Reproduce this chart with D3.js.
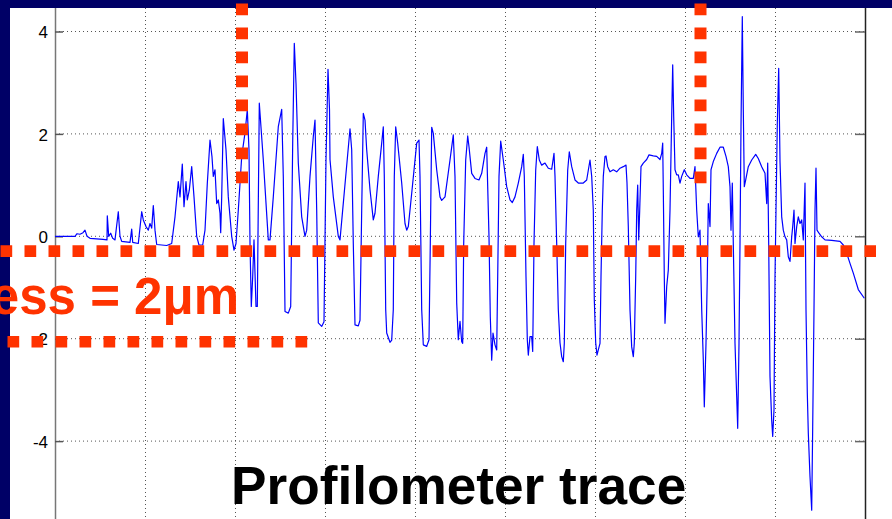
<!DOCTYPE html>
<html>
<head>
<meta charset="utf-8">
<script src="https://cdn.jsdelivr.net/npm/d3@7"></script>
<style>
  html, body { margin: 0; padding: 0; background: #ffffff; overflow: hidden; }
  svg { display: block; }
</style>
</head>
<body>
<svg id="chart" width="892" height="519"></svg>
<script>
// ---------- data ----------
const yTicks = [-4, -2, 0, 2, 4];
const yTickLabels = ["-4", "-2", "0", "2", "4"];
const xGrid = [90, 180, 270, 360, 450, 540, 630, 720];

// profilometer trace (x in scan units, y in µm)
const profileX = [
  0, 20, 22, 25, 28, 30, 32, 35, 48, 52, 52.3, 53.7, 55.7, 57.7, 60, 63.3, 65, 66.7, 75, 76.7,
  77.7, 83.3, 86.7, 88.3, 91, 93.3, 95, 96.7, 98.3, 100, 101.7, 111.7, 116.7, 120, 123.3, 125, 127.3, 129, 131, 132.3,
  134.3, 136.7, 139, 141.7, 144, 147.7, 150, 152.3, 155, 157, 158.3, 160, 161.7, 163.3, 165, 165.7, 166.7, 168.3, 171, 173.3,
  176.7, 179, 181, 183.3, 186.7, 190, 192.3, 194, 195, 196.3, 197.7, 199, 201, 202.3, 204.3, 208.3, 213.3, 215, 218.3, 223.3,
  226.7, 228.3, 230, 233.3, 235.7, 237.7, 239.3, 241, 243.3, 246.7, 250, 251.7, 255, 258.3, 260, 261.7, 263.3, 266.7, 269, 271,
  273, 274.5, 275, 278.3, 283.3, 285, 295, 296.7, 298.3, 300, 303.3, 305, 306.7, 308.3, 310, 311.7, 315, 318.3, 320, 323.3,
  326.7, 328.3, 329.3, 330.7, 331.7, 335, 336.7, 338.3, 339.3, 340.7, 342.7, 346.7, 350, 351.7, 353.3, 356.7, 361.7, 364, 365, 366.7,
  368.3, 371.7, 374, 375.3, 376.7, 378.3, 381.7, 385, 386.7, 390, 395, 398.3, 400, 401.7, 403.3, 405, 406.7, 407.7, 408.7, 410.7,
  412.7, 414, 416.7, 420, 424, 426.7, 430, 431.7, 432.7, 434, 435.3, 436.7, 438, 440, 441.7, 442.7, 444, 445.7, 448.3, 451.7,
  455, 457.3, 460, 463.3, 466.7, 468.3, 469.3, 471, 472.3, 473.3, 475, 476.7, 477.7, 479, 480.7, 482.3, 484.3, 486.7, 490, 493.3,
  496.7, 499, 500, 501.7, 503.3, 505, 506.7, 508.3, 509.3, 510.7, 512.7, 514.3, 516.7, 520, 523.3, 528.3, 531.7, 535, 536.7, 538.3,
  539.3, 540.7, 542, 543.3, 545, 546, 547.3, 548.3, 550, 551, 552.7, 555, 558.3, 561.7, 565, 568.3, 571, 572, 573.3, 575,
  576.7, 578.3, 579.3, 580.7, 581.7, 582.7, 583.7, 584.7, 586, 588.3, 591.7, 594, 598.3, 601.7, 605, 606.7, 607.7, 608.3, 609.3, 610,
  611.7, 613.3, 615, 616.7, 617.7, 618.7, 620, 621.7, 623.3, 625, 626.7, 629.3, 631.7, 635, 638.3, 640, 641.7, 643.3, 645, 646.7,
  648.3, 649.3, 651, 652.3, 653.3, 655, 656, 658.3, 661.7, 665, 668.3, 671, 673.3, 675, 676, 677.3, 678.3, 680, 681.7, 682.7,
  684, 685, 686, 687.3, 688.3, 689.3, 690.7, 693.3, 696.7, 700.7, 703.3, 706.7, 710, 711.7, 712.7, 713.7, 715, 716.7, 717.7, 719,
  720, 721, 722.3, 723.7, 725, 726.7, 728.3, 730, 731.7, 733.3, 735, 736.7, 737.7, 739, 740, 741.7, 743.3, 745, 746.7, 748.3,
  750, 751, 752.3, 753.3, 755, 756.7, 757.7, 759, 760, 761, 762, 764, 766.7, 770, 776.7, 785, 788.3, 791.7, 795, 798.3,
  803.3, 809.3
];
const profileY = [
  0.0, 0.0, 0.05, 0.04, 0.07, 0.12, 0.0, -0.04, -0.06, -0.07, 0.4, 0.0, 0.06, -0.04, -0.07, 0.48, 0.0, -0.1, -0.12, 0.14,
  -0.12, -0.14, 0.48, 0.32, 0.19, 0.12, 0.25, 0.16, 0.6, 0.12, -0.16, -0.18, -0.14, 0.38, 1.07, 0.77, 1.41, 0.58, 1.07, 0.71,
  0.9, 1.36, 0.77, 0.0, -0.17, -0.17, 0.12, 1.03, 1.88, 1.55, 1.17, 1.3, 0.64, 0.71, 0.45, 0.07, 0.77, 2.3, 1.69, 0.77,
  0.0, -0.27, -0.14, 0.51, 1.56, 2.02, 2.47, 1.69, -0.14, -1.37, -0.79, -0.07, -1.37, -1.37, 2.6, 1.49, -0.07, -0.07, 0.77, 2.14,
  2.48, 1.17, -1.47, -1.5, -1.37, 1.82, 3.77, 2.99, 1.43, 0.38, 0.0, 0.12, 1.17, 1.95, 2.27, 0.51, -1.69, -1.76, -1.67, 1.5,
  3.26, 2.47, 1.5, 0.77, 0.0, -0.07, 2.1, 1.69, -0.14, -1.73, -1.75, -1.64, 0.51, 2.4, 2.27, 1.69, 0.91, 0.32, 0.45, 1.17,
  1.82, 2.14, 1.17, -1.43, -1.89, -2.07, -2.03, -1.43, 1.17, 2.14, 1.82, 1.04, 0.25, 0.12, 0.19, 0.84, 1.82, 1.88, 1.17, -1.43,
  -2.12, -2.15, -2.02, -0.14, 2.13, 2.01, 1.3, 0.77, 0.7, 0.77, 1.49, 1.98, 1.17, -1.3, -2.02, -1.66, -2.06, -2.09, -0.14, 1.49,
  1.96, 1.75, 1.23, 1.13, 1.1, 1.23, 1.62, 1.74, 0.97, -0.01, -1.57, -2.42, -1.89, -2.12, -2.22, -0.79, 1.17, 1.86, 1.49, 0.97,
  0.71, 0.66, 0.77, 1.04, 1.36, 1.6, 1.17, -0.79, -2.02, -2.32, -1.96, -1.96, -2.25, -0.14, 1.29, 1.75, 1.49, 1.39, 1.43, 1.33,
  1.31, 1.62, 1.17, -0.14, -1.43, -2.08, -2.35, -2.45, -2.09, -0.14, 1.29, 1.65, 1.36, 1.1, 1.04, 1.04, 1.1, 1.49, 1.17, 0.51,
  -1.24, -2.08, -2.32, -2.22, -2.09, -0.79, 0.51, 1.17, 1.56, 1.57, 1.36, 1.26, 1.3, 1.26, 1.33, 1.36, 1.39, 1.04, 0.19, -1.44,
  -2.16, -2.35, -2.09, -0.79, 0.51, 1.0, -0.07, 0.51, 1.36, 1.43, 1.5, 1.59, 1.57, 1.56, 1.5, 1.62, 1.82, 0.91, -0.79, -1.7,
  -0.98, -0.66, 0.51, 2.34, 3.35, 2.34, 1.3, 1.2, 1.2, 1.04, 1.17, 1.3, 1.2, 1.13, 1.13, 1.36, 0.51, -0.01, 0.12, -1.43,
  -2.41, -3.33, -2.09, -0.79, 0.64, 0.19, 1.3, 1.46, 1.62, 1.74, 1.74, 1.56, 1.36, 0.97, 0.12, 1.04, -0.14, -2.09, -3.13, -3.75,
  -2.09, -0.14, 2.14, 4.29, 2.47, 0.97, 1.1, 1.36, 1.49, 1.6, 1.52, 1.36, 1.23, 0.64, 1.43, -0.14, -2.74, -3.59, -3.91, -3.39,
  -0.79, 0.51, 2.21, 3.28, 1.47, 0.38, 0.12, -0.01, -0.07, -0.4, -0.49, -0.01, 0.19, 0.51, -0.14, 0.19, 0.38, 0.25, 0.32, -0.07,
  1.04, -1.43, -3.06, -3.84, -4.69, -5.35, -3.72, -1.43, 0.51, 1.33, 0.12, 0.06, -0.01, -0.07, -0.08, -0.1, -0.17, -0.33, -0.53, -0.72,
  -1.04, -1.21
];

// annotation levels (data units)
const thicknessLevels = [-0.29, -2.06];
const markerPositions = [187, 645.5];

// ---------- chart ----------
const W = 892, H = 519;
const svg = d3.select("#chart");
const FONT = "'Liberation Sans', Arial, Helvetica, sans-serif";
const RED = "#ff3300";
const NAVY = "#000066";

const x = d3.scaleLinear().domain([0, 810]).range([55, 865]);
const y = d3.scaleLinear().domain([-6, 4.5]).range([236.3 + 6 * 51.2, 236.3 - 4.5 * 51.2]);

svg.append("rect").attr("width", W).attr("height", H).attr("fill", "#ffffff");

// grid
const grid = svg.append("g");
grid.selectAll("line.h").data(yTicks).join("line")
  .attr("x1", x(0)).attr("x2", x(810))
  .attr("y1", d => y(d)).attr("y2", d => y(d))
  .attr("stroke", "#555").attr("stroke-width", 1)
  .attr("stroke-dasharray", "1,3");
grid.selectAll("line.v").data(xGrid).join("line")
  .attr("x1", d => x(d) + 0.5).attr("x2", d => x(d) + 0.5)
  .attr("y1", 8).attr("y2", H)
  .attr("stroke", "#555").attr("stroke-width", 1)
  .attr("stroke-dasharray", "1,3");

// axes
const left = svg.append("g").attr("transform", `translate(${x(0)},0)`)
  .call(d3.axisLeft(y).tickValues(yTicks).tickSize(-8).tickSizeOuter(0).tickPadding(7)
    .tickFormat(d => yTickLabels[yTicks.indexOf(d)]));
left.select(".domain").attr("stroke", "#777").attr("stroke-width", 1.5);
left.selectAll(".tick line").attr("stroke", "#555").attr("stroke-width", 1.5);
left.selectAll(".tick text").attr("font-family", FONT).attr("font-size", 17)
  .attr("fill", "#000").attr("dy", "0.36em");

const right = svg.append("g").attr("transform", `translate(${x(810)},0)`)
  .call(d3.axisRight(y).tickValues(yTicks).tickSize(-10).tickSizeOuter(0).tickFormat(""));
right.select(".domain").attr("stroke", "#222").attr("stroke-width", 1.5);
right.selectAll(".tick line").attr("stroke", "#666").attr("stroke-width", 1.5);

// trace
const pts = profileX.map((d, i) => [d, profileY[i]]);
svg.append("path").datum(pts)
  .attr("d", d3.line().x(d => x(d[0])).y(d => y(d[1])))
  .attr("fill", "none").attr("stroke", "#0000ff").attr("stroke-width", 1.2)
  .attr("stroke-linejoin", "round");

// navy frame bands
svg.append("rect").attr("x", 0).attr("y", 0).attr("width", W).attr("height", 8).attr("fill", NAVY);
svg.append("rect").attr("x", 0).attr("y", 0).attr("width", 10).attr("height", H).attr("fill", NAVY);

// red dotted annotation lines
const dash = "11.7,12.3";
svg.append("line")
  .attr("x1", 0.5).attr("x2", 876).attr("y1", y(thicknessLevels[0])).attr("y2", y(thicknessLevels[0]))
  .attr("stroke", RED).attr("stroke-width", 11.6).attr("stroke-dasharray", dash);
svg.append("line")
  .attr("x1", 7.5).attr("x2", 308).attr("y1", y(thicknessLevels[1])).attr("y2", y(thicknessLevels[1]))
  .attr("stroke", RED).attr("stroke-width", 11.6).attr("stroke-dasharray", dash);
svg.selectAll("line.vm").data(markerPositions).join("line")
  .attr("x1", d => x(d)).attr("x2", d => x(d))
  .attr("y1", 3.5).attr("y2", 184)
  .attr("stroke", RED).attr("stroke-width", 12).attr("stroke-dasharray", dash);

// texts
svg.append("text")
  .attr("x", 239).attr("y", 313.5)
  .attr("text-anchor", "end")
  .attr("font-family", FONT).attr("font-weight", "bold").attr("font-size", 51)
  .attr("fill", RED)
  .text("Thickness = 2μm");

svg.append("text")
  .attr("x", 231).attr("y", 503.5)
  .attr("font-family", FONT).attr("font-weight", "bold").attr("font-size", 53.2)
  .attr("fill", "#000")
  .text("Profilometer trace");
</script>
</body>
</html>
